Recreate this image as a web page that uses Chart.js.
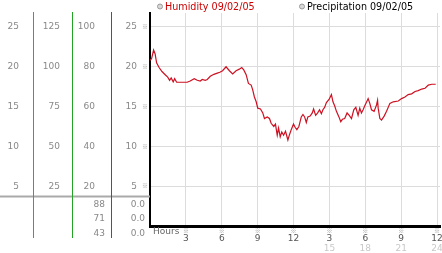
<!DOCTYPE html>
<html lang="en">
<head>
  <meta charset="UTF-8" />
  <title>Humidity 09/02/05</title>
  <script src="https://cdn.jsdelivr.net/npm/chart.js"></script>
  <style>
    html, body { margin: 0; padding: 0; background: #fff; }
    #wrap { position: relative; width: 442px; height: 253px; }
  </style>
</head>
<body>
  <div id="wrap"><canvas id="humChart"></canvas></div>

  <script>
    // readings, hours since midnight
    const hours = [0, 0.13, 0.3, 0.43, 0.55, 0.76, 1.0, 1.27, 1.48, 1.64, 1.77, 1.94, 2.06, 2.23, 2.69, 3.11,
      3.36, 3.70, 3.95, 4.2, 4.37, 4.62, 4.79, 5.04, 5.34, 5.63, 5.84, 6.07, 6.36, 6.64, 6.91, 7.2, 7.47,
      7.67, 7.84, 8.04, 8.23, 8.46, 8.59, 8.73, 8.88, 9.01, 9.24, 9.43, 9.57, 9.8, 9.99, 10.13, 10.35,
      10.49, 10.64, 10.75, 10.89, 11.02, 11.17, 11.33, 11.53, 11.67, 11.81, 12.0, 12.13, 12.28, 12.45,
      12.65, 12.79, 12.93, 13.07, 13.2, 13.39, 13.57, 13.68, 13.85, 14.02, 14.18, 14.33, 14.46, 14.6,
      14.75, 14.97, 15.17, 15.3, 15.44, 15.59, 15.8, 15.95, 16.09, 16.28, 16.48, 16.66, 16.85, 17.04,
      17.21, 17.4, 17.54, 17.68, 17.82, 17.96, 18.15, 18.24, 18.38, 18.52, 18.74, 18.94, 19.03, 19.08,
      19.22, 19.36, 19.58, 19.78, 20.06, 20.34, 20.76, 21.04, 21.32, 21.59, 21.88, 22.16, 22.43, 22.72,
      23.0, 23.27, 23.56, 23.89];
    const humidity = [20.8, 21.0, 22.1, 21.6, 20.5, 19.9, 19.4, 19.0, 18.7, 18.3, 18.6, 18.1, 18.5, 18.05, 18.05, 18.05,
      18.2, 18.5, 18.3, 18.2, 18.4, 18.3, 18.4, 18.8, 19.05, 19.2, 19.3, 19.5, 20.0, 19.5, 19.1, 19.5, 19.7,
      19.9, 19.6, 19.0, 17.9, 17.7, 17.1, 16.2, 15.6, 14.8, 14.7, 14.2, 13.5, 13.7, 13.5, 12.9, 12.5,
      12.8, 11.4, 12.3, 11.2, 11.8, 11.4, 11.9, 10.8, 11.5, 12.1, 12.8, 12.4, 12.1, 12.5,
      13.7, 14.0, 13.7, 13.0, 13.7, 13.8, 14.2, 14.7, 13.9, 14.2, 14.6, 14.1, 14.6, 14.9,
      15.5, 15.9, 16.5, 15.6, 15.1, 14.4, 13.7, 13.1, 13.4, 13.5, 14.2, 13.9, 13.5, 14.6,
      14.9, 13.9, 14.8, 14.2, 14.6, 15.1, 15.7, 16.0, 15.4, 14.6, 14.4, 15.2, 15.8, 14.8,
      13.5, 13.3, 13.8, 14.4, 15.4, 15.6, 15.7, 16.0, 16.2, 16.5, 16.6, 16.9, 17.0, 17.2,
      17.3, 17.7, 17.8, 17.8];
    const precipitation = [];

    const seriesLabels = ['Humidity 09/02/05', 'Precipitation 09/02/05'];
    const hourTicks = ['3', '6', '9', '12', '3', '6', '9', '12'];
    const hourTicks2 = ['', '', '', '', '15', '18', '21', '24'];
    const maxRow = ['88', '71', '43'];
    const precipRow = ['0.0', '0.0', '0.0'];

    const tickFont = { family: 'DejaVu Sans', size: 9 };
    const hideZero = v => (v === 0 ? '' : v);

    // fixed box sizes, no extra padding from the tick labels
    const fixW = w => s => { s.width = w; s.paddingTop = 0; s.paddingBottom = 0; };
    const fixH = h => s => { s.height = h; s.paddingLeft = 0; s.paddingRight = 0; };

    // side panel lines, extra numbers, tick marks and the legend
    const panelDecor = {
      id: 'panelDecor',
      afterDraw(chart) {
        const ctx = chart.ctx;
        const { y, x } = chart.scales;
        ctx.save();

        ctx.strokeStyle = '#a9a9a9';
        ctx.lineWidth = 2;
        ctx.beginPath();
        ctx.moveTo(0, 196.5);
        ctx.lineTo(y.right, 196.5);
        ctx.stroke();

        [['y3', '#1e9ad6'], ['y2', '#22a322'], ['y1', '#d02020']].forEach(([id, c]) => {
          const px = Math.round(chart.scales[id].right) + 0.5;
          ctx.strokeStyle = c;
          ctx.lineWidth = 1;
          ctx.beginPath();
          ctx.moveTo(px, 12);
          ctx.lineTo(px, 238);
          ctx.stroke();
        });

        ctx.font = '9px "DejaVu Sans"';
        ctx.fillStyle = '#888';
        ctx.textAlign = 'right';
        ctx.textBaseline = 'middle';
        maxRow.forEach((t, i) => ctx.fillText(t, 105, 204.5 + i * 14.5));
        precipRow.forEach((t, i) => ctx.fillText(t, 145, 204.5 + i * 14.5));

        ctx.font = '6px "Noto Sans CJK JP"';
        ctx.fillStyle = '#999';
        ctx.textAlign = 'center';
        y.ticks.forEach(t => {
          if (t.value > 0) ctx.fillText('※', 145, y.getPixelForValue(t.value));
        });
        x.ticks.forEach(t => {
          if (t.value > 0) ctx.fillText('※', x.getPixelForValue(t.value), 230.5);
        });

        ctx.font = '9px "DejaVu Sans"';
        ctx.fillStyle = '#666';
        ctx.textAlign = 'left';
        ctx.fillText('Hours', 153, 232);

        // legend
        const items = [[157, chart.data.datasets[0]], [299, chart.data.datasets[1]]];
        ctx.font = '9.6px "DejaVu Sans"';
        items.forEach(([lx, ds]) => {
          ctx.beginPath();
          ctx.arc(lx + 3, 6.5, 2.5, 0, Math.PI * 2);
          ctx.fillStyle = '#d8d8d8';
          ctx.fill();
          ctx.strokeStyle = '#999';
          ctx.lineWidth = 1;
          ctx.stroke();
          ctx.fillStyle = ds.legendColor;
          ctx.textBaseline = 'alphabetic';
          ctx.fillText(ds.label, lx + 8, 10);
        });
        ctx.restore();
      }
    };

    new Chart(document.getElementById('humChart'), {
      type: 'line',
      data: {
        datasets: [{
          label: seriesLabels[0],
          data: hours.map((h, i) => ({ x: h, y: humidity[i] })),
          borderColor: '#cc1122',
          legendColor: '#cc0000',
          borderWidth: 1.2,
          pointRadius: 0,
          tension: 0
        }, {
          label: seriesLabels[1],
          data: precipitation,
          borderColor: '#999',
          legendColor: '#000',
          pointRadius: 0
        }]
      },
      options: {
        responsive: true,
        maintainAspectRatio: false,
        animation: false,
        layout: { padding: { top: 13, right: 2 } },
        plugins: { legend: { display: false }, tooltip: { enabled: false } },
        scales: {
          x: {
            type: 'linear', position: 'bottom', min: 0, max: 24.25, weight: 0,
            afterFit: fixH(17),
            grid: { color: '#dcdcdc', drawTicks: false },
            border: { color: '#000', width: 3 },
            ticks: {
              stepSize: 3, includeBounds: false, padding: 7, color: '#555', font: tickFont,
              maxRotation: 0, autoSkip: false,
              callback: v => hourTicks[v / 3 - 1] ?? ''
            }
          },
          x2: {
            type: 'linear', position: 'bottom', min: 0, max: 24.25, weight: 1,
            afterFit: fixH(10),
            grid: { display: false, drawTicks: false },
            border: { display: false },
            ticks: {
              stepSize: 3, includeBounds: false, padding: 0, color: '#c8c8c8', font: tickFont,
              maxRotation: 0, autoSkip: false,
              callback: v => hourTicks2[v / 3 - 1] ?? ''
            }
          },
          y: {
            position: 'left', min: 0, max: 26.75, weight: 0,
            afterFit: fixW(39),
            grid: { color: '#dcdcdc', drawTicks: false },
            border: { color: '#000', width: 2 },
            ticks: { stepSize: 5, includeBounds: false, padding: 13, color: '#888', font: tickFont, callback: hideZero }
          },
          y1: {
            position: 'left', min: 0, max: 107, weight: 1,
            afterFit: fixW(39),
            grid: { display: false, drawTicks: false },
            border: { display: false },
            ticks: { stepSize: 20, includeBounds: false, padding: 16, color: '#888', font: tickFont, callback: hideZero }
          },
          y2: {
            position: 'left', min: 0, max: 133.75, weight: 2,
            afterFit: fixW(39),
            grid: { display: false, drawTicks: false },
            border: { display: false },
            ticks: { stepSize: 25, includeBounds: false, padding: 12, color: '#888', font: tickFont, callback: hideZero }
          },
          y3: {
            position: 'left', min: 0, max: 26.75, weight: 3,
            afterFit: fixW(33),
            grid: { display: false, drawTicks: false },
            border: { display: false },
            ticks: { stepSize: 5, includeBounds: false, padding: 14, color: '#888', font: tickFont, callback: hideZero }
          }
        }
      },
      plugins: [panelDecor]
    });
  </script>
</body>
</html>
